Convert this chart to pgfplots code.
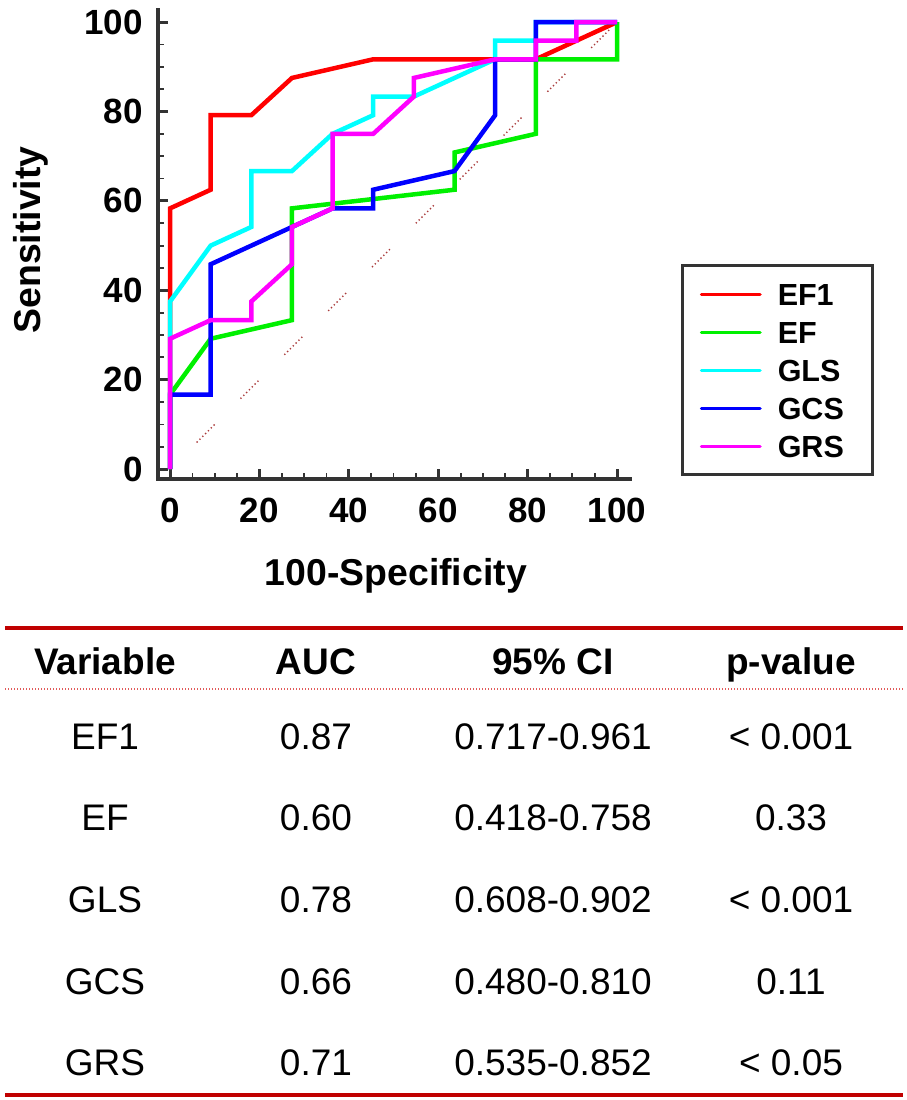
\documentclass[border=0pt]{standalone}
\usepackage{fontspec}
\setmainfont{Liberation Sans}
\usepackage{pgfplots}
\pgfplotsset{compat=1.18}
\definecolor{spine}{RGB}{51,51,51}
\definecolor{tabred}{RGB}{192,0,0}
\definecolor{dotred}{RGB}{225,90,90}
\definecolor{diagred}{RGB}{170,60,60}
\definecolor{cred}{RGB}{255,0,0}
\definecolor{cgreen}{RGB}{0,240,0}
\definecolor{ccyan}{RGB}{0,255,255}
\definecolor{cblue}{RGB}{0,0,255}
\definecolor{cmag}{RGB}{255,0,255}
\begin{document}
\begin{tikzpicture}[x=1pt,y=1pt]
\useasboundingbox (0,0) rectangle (906,1100);
\begin{axis}[
  at={(158pt,621pt)}, anchor=south west,
  scale only axis, width=472pt, height=469pt,
  xmin=-2.7, xmax=102.9, ymin=-2.2, ymax=102.7,
  axis x line=bottom, axis y line=left,
  axis line style={-, line width=3.5pt, spine, line cap=rect},
  xtick={0,20,...,100}, ytick={0,20,...,100}, minor tick num=3,
  tick align=inside, major tick length=10pt, minor tick length=6pt,
  major tick style={line width=3pt, spine},
  minor tick style={line width=1.8pt, spine},
  /pgf/number format/assume math mode=true,
  ticklabel style={font=\fontsize{35}{35}\selectfont\bfseries, inner sep=0pt},
  xticklabel style={yshift=-19pt},
  yticklabel style={xshift=-15pt},
  xlabel={100-Specificity}, ylabel={Sensitivity},
  label style={font=\fontsize{37.4}{37.4}\selectfont\bfseries},
  xlabel style={at={(axis description cs:0.504,-0.228)}, anchor=base, inner sep=0pt},
  ylabel style={at={(axis description cs:-0.248,0.5096)}, anchor=base, inner sep=0pt, rotate=0},
  legend cell align=left,
  legend image code/.code={\draw[#1, line width=3.5pt, line cap=round] (0pt,0pt) -- (58.5pt,0pt);},
  legend style={draw=none, fill=none, at={(axis description cs:1.1478,0.4168)}, anchor=north west,
    inner sep=0pt, outer sep=0pt, row sep=16.5pt,
    font=\fontsize{30.5}{30.5}\selectfont\bfseries,
    nodes={inner sep=0pt, text height=21.5pt, text depth=0pt},
    /tikz/every odd column/.append style={column sep=16pt}},
]
\addplot[forget plot, diagred, line width=1.4pt,
  dash pattern=on 1.3pt off 2.7pt on 1.3pt off 2.7pt on 1.3pt off 2.7pt on 1.3pt off 2.7pt on 1.3pt off 2.7pt on 1.3pt off 2.7pt on 1.3pt off 36.7pt,
  dash phase=24.3pt] coordinates {(0,0) (100,100)};
\addplot[cred, line width=4.5pt] coordinates {
 (0,0) (0,58.33) (9.09,62.5) (9.09,79.17) (18.18,79.17) (27.27,87.5) (45.45,91.67) (81.82,91.67) (100,100)};
\addlegendentry{EF1}
\addplot[cgreen, line width=4.5pt] coordinates {
 (0,0) (0,16.67) (9.09,29.17) (27.27,33.33) (27.27,58.33) (63.64,62.5) (63.64,70.83) (81.82,75) (81.82,91.67) (100,91.67) (100,100)};
\addlegendentry{EF}
\addplot[ccyan, line width=4.5pt] coordinates {
 (0,0) (0,37.5) (9.09,50) (18.18,54.17) (18.18,66.67) (27.27,66.67) (36.36,75) (45.45,79.17) (45.45,83.33) (54.55,83.33) (72.73,91.67) (72.73,95.83) (81.82,95.83) (81.82,100) (100,100)};
\addlegendentry{GLS}
\addplot[cblue, line width=4.5pt] coordinates {
 (0,0) (0,16.67) (9.09,16.67) (9.09,45.83) (36.36,58.33) (45.45,58.33) (45.45,62.5) (63.64,66.67) (72.73,79.17) (72.73,91.67) (81.82,91.67) (81.82,100) (100,100)};
\addlegendentry{GCS}
\addplot[cmag, line width=4.5pt] coordinates {
 (0,0) (0,29.17) (9.09,33.33) (18.18,33.33) (18.18,37.5) (27.27,45.83) (27.27,54.17) (36.36,58.33) (36.36,75) (45.45,75) (54.55,83.33) (54.55,87.5) (72.73,91.67) (81.82,91.67) (81.82,95.83) (90.91,95.83) (90.91,100) (100,100)};
\addlegendentry{GRS}
\end{axis}
\draw[spine, line width=3pt] (682,625) rectangle (872,834);
% table
\draw[tabred, line width=3.5pt] (5,472) -- (903,472);
\draw[dotred, line width=1.3pt, dash pattern=on 1.2pt off 1.8pt] (5,411) -- (903,411);
\draw[tabred, line width=4pt] (5,5) -- (903,5);
\begin{scope}[every node/.style={anchor=base, inner sep=0pt, font=\fontsize{37}{37}\selectfont\bfseries}]
\node at (105,425) {Variable};
\node at (316,425) {AUC};
\node at (553,425) {95\% CI};
\node at (791,425) {p-value};
\end{scope}
\begin{scope}[every node/.style={anchor=base, inner sep=0pt, font=\fontsize{37}{37}\selectfont}]
\node at (105,350) {EF1}; \node at (316,350) {0.87}; \node at (553,350) {0.717-0.961}; \node at (791,350) {< 0.001};
\node at (105,269) {EF};  \node at (316,269) {0.60}; \node at (553,269) {0.418-0.758}; \node at (791,269) {0.33};
\node at (105,187) {GLS}; \node at (316,187) {0.78}; \node at (553,187) {0.608-0.902}; \node at (791,187) {< 0.001};
\node at (105,105) {GCS}; \node at (316,105) {0.66}; \node at (553,105) {0.480-0.810}; \node at (791,105) {0.11};
\node at (105,24)  {GRS}; \node at (316,24)  {0.71}; \node at (553,24)  {0.535-0.852}; \node at (791,24)  {< 0.05};
\end{scope}
\end{tikzpicture}
\end{document}
